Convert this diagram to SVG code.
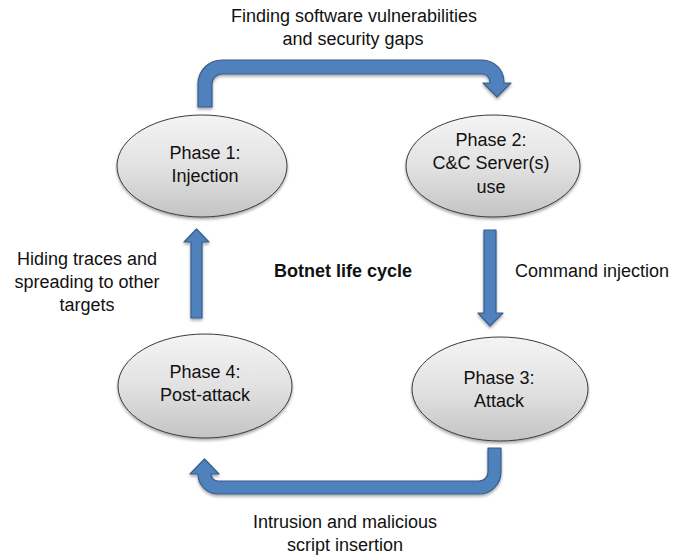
<svg xmlns="http://www.w3.org/2000/svg" width="684" height="557" viewBox="0 0 684 557">
  <defs>
    <linearGradient id="phaseFill" x1="0" y1="0" x2="0" y2="1">
      <stop offset="0" stop-color="#f4f4f4"/>
      <stop offset="0.5" stop-color="#e2e2e2"/>
      <stop offset="1" stop-color="#c4c4c4"/>
    </linearGradient>
    <filter id="softShadow" x="-20%" y="-20%" width="140%" height="150%">
      <feGaussianBlur in="SourceAlpha" stdDeviation="1.5"/>
      <feOffset dx="0" dy="2" result="blur"/>
      <feComponentTransfer><feFuncA type="linear" slope="0.35"/></feComponentTransfer>
      <feMerge><feMergeNode/><feMergeNode in="SourceGraphic"/></feMerge>
    </filter>
  </defs>
  <style>
    text { font-family: "Liberation Sans", Arial, sans-serif; font-size: 18px; fill: #111; text-anchor: middle; }
    .title { font-weight: bold; }
    .phase { fill: url(#phaseFill); stroke: #3c3c3c; stroke-width: 1; }
    .flow { fill: #4f81bd; stroke: #385d8a; stroke-width: 1.2; stroke-linejoin: round; }
  </style>

  <rect width="684" height="557" fill="#ffffff"/>

  <!-- connectors -->
  <g id="connectors" filter="url(#softShadow)">
    <!-- phase 1 to phase 2: U-turn over the top -->
    <path class="flow" d="M198,107 V84 A24,24 0 0 1 222,60 H482 A22,22 0 0 1 504,82 V83 H511 L497,97 L483,83 H490 V82 A8,8 0 0 0 482,74 H222 A10,10 0 0 0 212,84 V107 Z"/>
    <!-- phase 2 to phase 3: straight down -->
    <path class="flow" d="M484,230 H496 V313 H503 L490,326 L478,313 H484 Z"/>
    <!-- phase 3 to phase 4: U-turn underneath -->
    <path class="flow" d="M501,448 V472 A22,22 0 0 1 479,494 H218 A20,20 0 0 1 198,474 H190 L204.5,459 L219,474 H211 A7,7 0 0 0 218,481 H479 A9,9 0 0 0 488,472 V448 Z"/>
    <!-- phase 4 to phase 1: straight up -->
    <path class="flow" d="M191,318 V242 H184 L196.5,229 L209,242 H202 V318 Z"/>
  </g>

  <!-- edge labels -->
  <g id="labels">
    <text x="354" y="22">Finding software vulnerabilities</text>
    <text x="353" y="45">and security gaps</text>
    <text x="592" y="277">Command injection</text>
    <text x="345" y="528">Intrusion and malicious</text>
    <text x="345" y="551">script insertion</text>
    <text x="87" y="265">Hiding traces and</text>
    <text x="87" y="288">spreading to other</text>
    <text x="87" y="311">targets</text>
    <text class="title" x="343" y="277">Botnet life cycle</text>
  </g>

  <g id="phase1">
    <ellipse class="phase" cx="202" cy="166" rx="85" ry="51" filter="url(#softShadow)"/>
    <text x="205" y="159">Phase 1:</text>
    <text x="205" y="182">Injection</text>
  </g>

  <g id="phase2">
    <ellipse class="phase" cx="493" cy="166" rx="87" ry="51" filter="url(#softShadow)"/>
    <text x="491" y="146">Phase 2:</text>
    <text x="491" y="169">C&amp;C Server(s)</text>
    <text x="491" y="193">use</text>
  </g>

  <g id="phase3">
    <ellipse class="phase" cx="500" cy="389" rx="88" ry="52" filter="url(#softShadow)"/>
    <text x="499" y="384">Phase 3:</text>
    <text x="499" y="407">Attack</text>
  </g>

  <g id="phase4">
    <ellipse class="phase" cx="205" cy="386" rx="87" ry="52" filter="url(#softShadow)"/>
    <text x="205" y="378">Phase 4:</text>
    <text x="205" y="401">Post-attack</text>
  </g>
</svg>
